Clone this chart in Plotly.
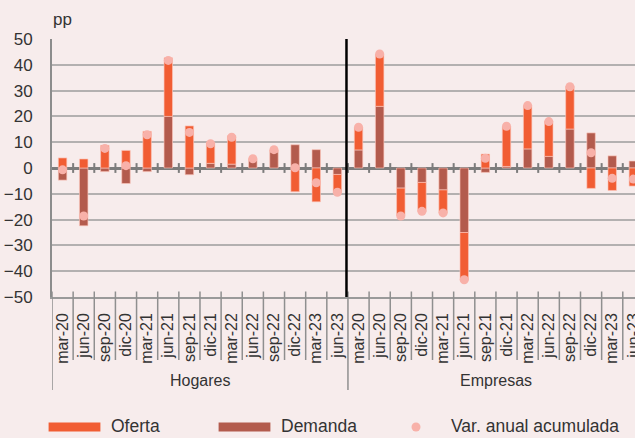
import plotly.graph_objects as go

# Quarters and sector groups
quarters = ["mar-20", "jun-20", "sep-20", "dic-20", "mar-21", "jun-21", "sep-21",
            "dic-21", "mar-22", "jun-22", "sep-22", "dic-22", "mar-23", "jun-23"]
groups = ["Hogares", "Empresas"]

# Contributions (pp) - households
oferta_hogares = [3.9, 3.5, 8.8, 6.8, 14.2, 22.7, 16.3, 8.2, 11.0, 0.6, 0.8, -9.2, -13.1, -7.0]
demanda_hogares = [-4.7, -22.4, -1.4, -6.0, -1.4, 20.0, -2.6, 1.8, 1.5, 3.0, 6.2, 9.0, 7.1, -2.5]
var_hogares = [-0.7, -18.6, 7.6, 0.9, 12.9, 41.7, 13.8, 9.4, 11.9, 3.6, 7.1, 0.1, -5.7, -9.4]

# Contributions (pp) - firms
oferta_empresas = [8.8, 20.3, -10.7, -11.2, -9.0, -18.5, 5.4, 15.6, 16.7, 13.6, 16.5, -7.9, -8.7, -7.0]
demanda_empresas = [7.0, 23.9, -7.8, -5.6, -8.5, -25.0, -1.7, 0.6, 7.4, 4.5, 15.1, 13.6, 4.7, 2.7]
var_empresas = [15.8, 44.2, -18.6, -16.8, -17.4, -43.3, 3.8, 16.2, 24.2, 18.0, 31.5, 5.9, -4.0, -4.3]

y_ticks = [50, 40, 30, 20, 10, 0, -10, -20, -30, -40, -50]

ORANGE = "#f15d33"
BROWN = "#b35b4d"
PINK = "#f8b1a9"
BG = "#f7ecec"
TEXT = "#333333"
FONT = "Liberation Sans, Arial, sans-serif"

n = len(quarters)
labels = quarters * len(groups)
xpos = list(range(len(labels)))
oferta = oferta_hogares + oferta_empresas
demanda = demanda_hogares + demanda_empresas
var_acum = var_hogares + var_empresas

W, H = 635, 438
ML, MT, MB = 52, 39, 141
plot_w = W - ML
plot_h = H - MT - MB
step = 21.14  # pixels per category

def px_x(p):
    return (p - ML) / plot_w

def px_y(p):
    return (H - MB - p) / plot_h

fig = go.Figure()
bar_line = dict(color="rgba(252,196,186,0.8)", width=0.8)
fig.add_trace(go.Bar(x=xpos, y=demanda, name="Demanda", marker=dict(color=BROWN, line=bar_line),
                     width=0.4, showlegend=False))
fig.add_trace(go.Bar(x=xpos, y=oferta, name="Oferta", marker=dict(color=ORANGE, line=bar_line),
                     width=0.4, showlegend=False))
fig.add_trace(go.Scatter(x=xpos, y=var_acum, mode="markers", name="Var. anual acumulada",
                         marker=dict(color=PINK, size=9), showlegend=False))

shapes = []
# small ticks crossing the zero line at category boundaries
for k in range(1, len(labels)):
    shapes.append(dict(type="line", xref="x", yref="y", x0=k - 0.5, x1=k - 0.5, y0=-1.9, y1=1.9,
                       line=dict(color="#7c7c7c", width=2), layer="above"))
# separators under the axis between quarters
for k in range(0, len(labels) + 1):
    is_group = (k % n == 0)
    shapes.append(dict(type="line", xref="x", yref="paper", x0=k - 0.5, x1=k - 0.5,
                       y0=px_y(291.5), y1=px_y(390 if is_group else 360),
                       line=dict(color="#8f8f8f", width=1.5), layer="above"))
# divider between the two sectors
shapes.append(dict(type="line", xref="x", yref="y", x0=n - 0.57, x1=n - 0.57, y0=-50, y1=50,
                   line=dict(color="black", width=2.5), layer="above"))

# legend drawn by hand
leg_y = 427.0
shapes.append(dict(type="rect", xref="paper", yref="paper", x0=px_x(48.6), x1=px_x(100.4),
                   y0=px_y(leg_y - 4.6), y1=px_y(leg_y + 4.6), fillcolor=ORANGE, line=dict(width=0)))
shapes.append(dict(type="rect", xref="paper", yref="paper", x0=px_x(218.6), x1=px_x(270.4),
                   y0=px_y(leg_y - 4.6), y1=px_y(leg_y + 4.6), fillcolor=BROWN, line=dict(width=0)))
shapes.append(dict(type="circle", xref="paper", yref="paper", x0=px_x(411.5), x1=px_x(420.5),
                   y0=px_y(leg_y - 4.5), y1=px_y(leg_y + 4.5), fillcolor=PINK, line=dict(width=0)))

annotations = []
for gi, g in enumerate(groups):
    annotations.append(dict(x=gi * n + (n - 1) / 2, xref="x", y=px_y(380), yref="paper",
                            text=g, showarrow=False, xanchor="center", yanchor="middle",
                            font=dict(size=16, color=TEXT, family=FONT)))
for txt, xp in [("Oferta", 108.5), ("Demanda", 278.5), ("Var. anual acumulada", 449)]:
    annotations.append(dict(x=px_x(xp), xref="paper", y=px_y(438), yref="paper", text=txt,
                            showarrow=False, xanchor="left", yanchor="bottom",
                            font=dict(size=17.5, color=TEXT, family=FONT)))
annotations.append(dict(x=px_x(51), xref="paper", y=px_y(19), yref="paper", text="pp",
                        showarrow=False, xanchor="left", yanchor="middle",
                        font=dict(size=17, color=TEXT, family=FONT)))

fig.update_layout(
    width=W, height=H,
    margin=dict(l=ML, r=0, t=MT, b=MB, pad=0, autoexpand=False),
    paper_bgcolor=BG, plot_bgcolor=BG,
    barmode="relative",
    font=dict(family=FONT, color=TEXT),
    shapes=shapes, annotations=annotations,
    xaxis=dict(range=[-0.5, -0.5 + plot_w / step], tickmode="array", tickvals=xpos, ticktext=labels,
               tickangle=-90, tickfont=dict(size=16, color=TEXT), ticks="", showgrid=False,
               zeroline=False, showline=True, linecolor="#9a9a9a", linewidth=1.5,
               ticklabelstandoff=8, ticklabeloverflow="allow", automargin=False),
    yaxis=dict(range=[-50, 50], tickmode="array", tickvals=y_ticks, ticks="",
               tickfont=dict(size=17, color=TEXT), showgrid=True, gridcolor="#b3b0b0", gridwidth=1.5,
               zeroline=True, zerolinecolor="#7c7c7c", zerolinewidth=2.5, automargin=False,
               showline=True, linecolor="#8c8c8c", linewidth=2, ticklabelstandoff=14),
)

fig.write_html("out.html")
